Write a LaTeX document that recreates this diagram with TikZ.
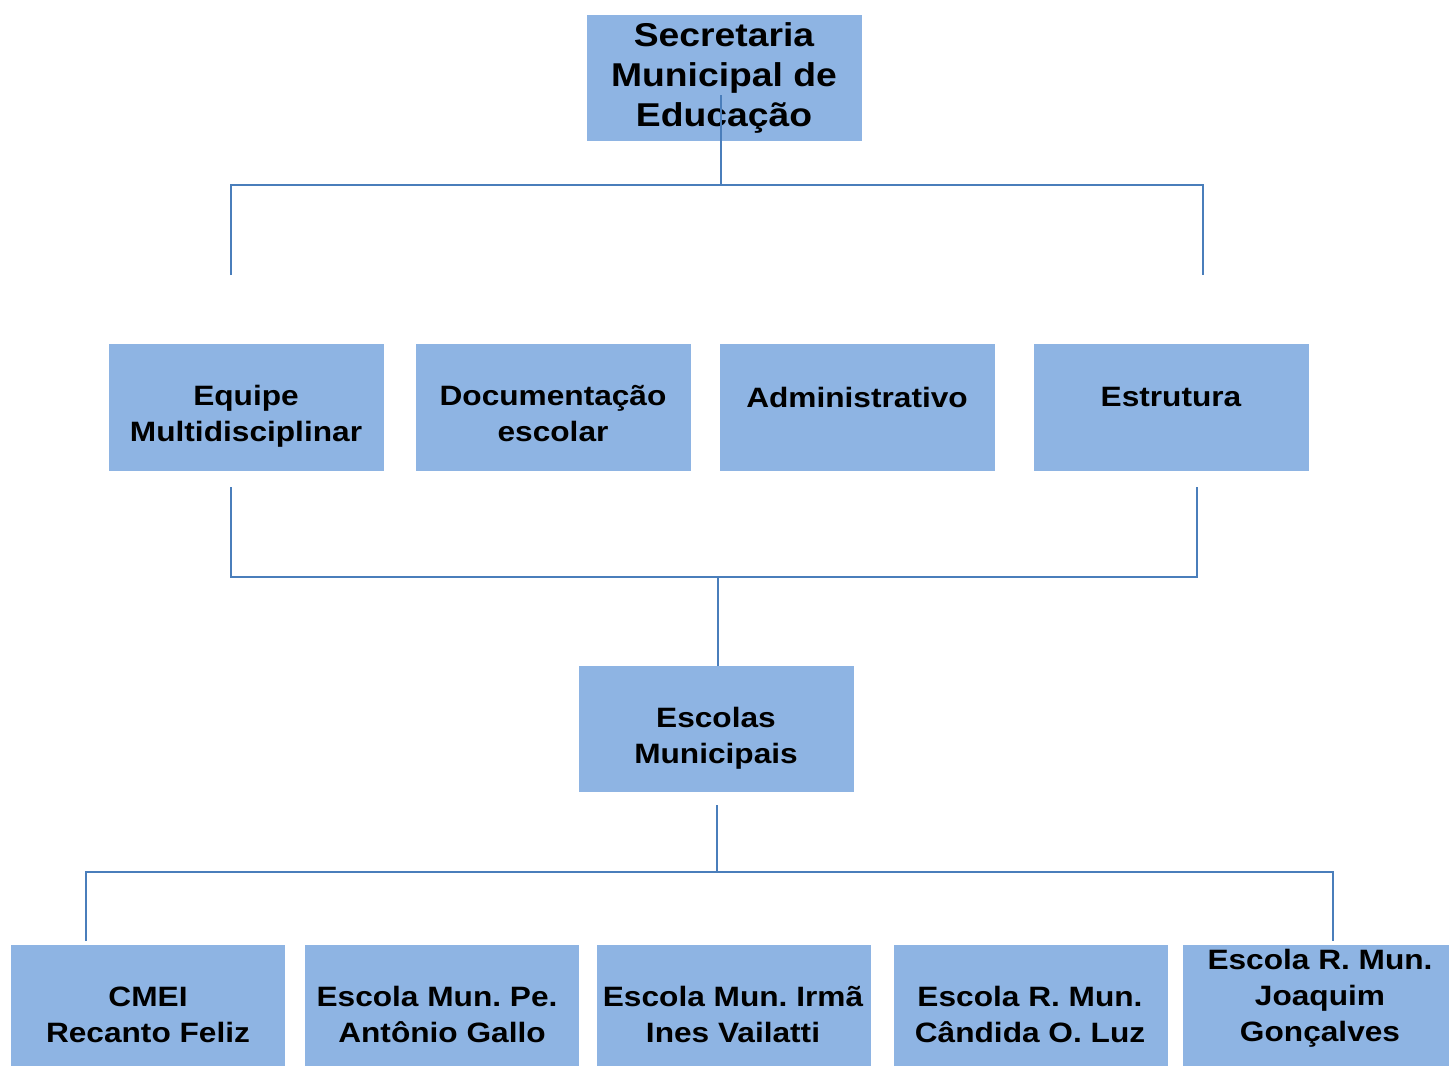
\documentclass[tikz,border=0pt]{standalone}
\usepackage{fontspec}
\setmainfont{Liberation Sans}[FakeStretch=1.13]
\definecolor{boxfill}{HTML}{8EB4E3}
\definecolor{linecol}{HTML}{4A7EBB}
\begin{document}
\frenchspacing
\begin{tikzpicture}[x=1pt,y=-1pt,
  box/.style={fill=boxfill,draw=none,inner sep=0pt,anchor=north west},
  lbl/.style={align=center,font=\bfseries\fontsize{28}{36}\selectfont,inner sep=0pt},
  toplbl/.style={align=center,font=\bfseries\fontsize{33}{40}\selectfont,inner sep=0pt},
  conn/.style={draw=linecol,line width=2pt}]
\useasboundingbox (0,0) rectangle (1450,1066);
% boxes
\node[box,minimum width=275pt,minimum height=126pt] (top) at (587,15) {};
\node[box,minimum width=275pt,minimum height=127pt] (m1) at (109,344) {};
\node[box,minimum width=275pt,minimum height=127pt] (m2) at (416,344) {};
\node[box,minimum width=275pt,minimum height=127pt] (m3) at (720,344) {};
\node[box,minimum width=275pt,minimum height=127pt] (m4) at (1034,344) {};
\node[box,minimum width=275pt,minimum height=126pt] (esc) at (579,666) {};
\node[box,minimum width=274pt,minimum height=121pt] (b1) at (11,945) {};
\node[box,minimum width=274pt,minimum height=121pt] (b2) at (305,945) {};
\node[box,minimum width=274pt,minimum height=121pt] (b3) at (597,945) {};
\node[box,minimum width=274pt,minimum height=121pt] (b4) at (894,945) {};
\node[box,minimum width=266pt,minimum height=121pt] (b5) at (1183,945) {};
% labels
\node[toplbl] (ttop) at (724,78) {Secretaria\\Municipal de\\Educação};
\node[lbl] (tm1) at (246,416) {Equipe\\Multidisciplinar};
\node[lbl] (tm2) at (553,413.5) {Documentação\\escolar};
\node[lbl] (tm3) at (857,397) {Administrativo};
\node[lbl] (tm4) at (1171,397) {Estrutura};
\node[lbl] (tesc) at (716,738) {Escolas\\Municipais};
\node[lbl] (tb1) at (148,1015) {CMEI\\Recanto Feliz};
\node[lbl] (tb2) at (442,1014) {Escola Mun. Pe.\hspace*{10pt}\\Antônio Gallo};
\node[lbl] (tb3) at (733,1014) {Escola Mun. Irmã\\Ines Vailatti};
\node[lbl] (tb4) at (1030,1014) {Escola R. Mun.\\Cândida O. Luz};
\node[lbl] (tb5) at (1320,998) {Escola R. Mun.\\Joaquim\\Gonçalves};
% junction coordinates
\coordinate (s0) at (721,95);
\coordinate (s1) at (721,185);
\coordinate (s1l) at (231,185);
\coordinate (s1r) at (1203,185);
\coordinate (s1ld) at (231,275);
\coordinate (s1rd) at (1203,275);
\coordinate (s2lu) at (231,487);
\coordinate (s2ru) at (1197,487);
\coordinate (s2l) at (231,577);
\coordinate (s2r) at (1197,577);
\coordinate (s2m) at (718,577);
\coordinate (s3u) at (717,805);
\coordinate (s3) at (717,872);
\coordinate (s3l) at (86,872);
\coordinate (s3r) at (1333,872);
\coordinate (s3ld) at (86,941);
\coordinate (s3rd) at (1333,941);
% connectors
\draw[conn] (s0) -- (s1);
\draw[conn] (s1ld) -- (s1l) -- (s1r) -- (s1rd);
\draw[conn] (s2lu) -- (s2l) -- (s2r) -- (s2ru);
\draw[conn] (s2m) -- (esc.north -| s2m);
\draw[conn] (s3u) -- (s3);
\draw[conn] (s3ld) -- (s3l) -- (s3r) -- (s3rd);
\end{tikzpicture}
\end{document}
